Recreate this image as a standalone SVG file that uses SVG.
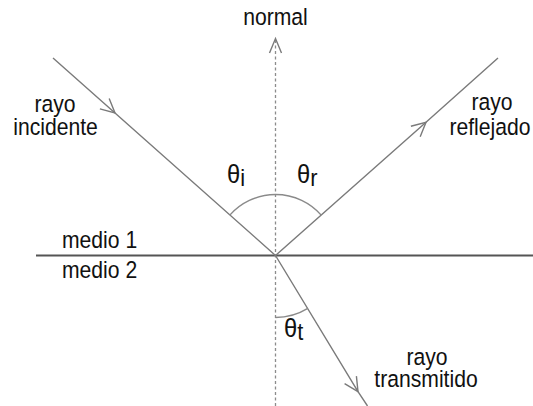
<svg xmlns="http://www.w3.org/2000/svg" width="533" height="406" viewBox="0 0 533 406">
<style>
  text { font-family: "Liberation Sans", Arial, sans-serif; font-size: 23.5px; fill: #111; }
  .lbl { text-anchor: middle; }
  .th { font-size: 25px; }
  .sub { font-size: 23px; }
  .ray { fill: none; stroke: #7a7a7a; stroke-width: 1.4; }
  .arc { fill: none; stroke: #8a8a8a; stroke-width: 1.4; }
  .normal { fill: none; stroke: #8c8c8c; stroke-width: 1.3; stroke-dasharray: 3 2.5; }
  .iface { fill: none; stroke: #555; stroke-width: 2; }
</style>
<defs>
  <marker id="chev" markerUnits="userSpaceOnUse" viewBox="-16 -9 18 18" markerWidth="18" markerHeight="18" refX="0" refY="0" orient="auto">
    <path d="M -14 -7 L 0 0 L -14 7" fill="none" stroke="#7a7a7a" stroke-width="1.4"/>
  </marker>
</defs>
<g id="connectors">
  <line id="interface" class="iface" x1="36" y1="255.5" x2="533" y2="255.5"/>
  <path id="normal-line" class="normal" d="M 275.5 406 L 275.5 39"/>
  <path class="ray" d="M 269.5 53 L 275.5 38.5 L 281.5 53"/>
  <path id="incident" class="ray" marker-mid="url(#chev)" d="M 53 58 L 115 113 L 275.5 255.5"/>
  <path id="reflected" class="ray" marker-mid="url(#chev)" d="M 275.5 255.5 L 426 122.2 L 498 58"/>
  <path id="transmitted" class="ray" marker-mid="url(#chev)" d="M 275.5 255.5 L 358 391.7 L 367.5 406"/>
  <path id="arc-ir" class="arc" d="M 229.8 215.1 A 61 61 0 0 1 321.2 215.1"/>
  <path id="arc-t" class="arc" d="M 275.5 317.5 A 62 62 0 0 0 307.8 308.4"/>
</g>
<g id="label-normal" transform="translate(275.5 25) scale(0.9 1)"><text class="lbl" x="0" y="0">normal</text></g>
<g id="label-incidente">
  <g transform="translate(55 112) scale(0.9 1)"><text class="lbl" x="0" y="0">rayo</text></g>
  <g transform="translate(55.5 135) scale(0.9 1)"><text class="lbl" x="0" y="0">incidente</text></g>
</g>
<g id="label-reflejado">
  <g transform="translate(492 110) scale(0.9 1)"><text class="lbl" x="0" y="0">rayo</text></g>
  <g transform="translate(490 135) scale(0.9 1)"><text class="lbl" x="0" y="0">reflejado</text></g>
</g>
<g id="label-transmitido">
  <g transform="translate(427 365) scale(0.9 1)"><text class="lbl" x="0" y="0">rayo</text></g>
  <g transform="translate(426 387) scale(0.9 1)"><text class="lbl" x="0" y="0">transmitido</text></g>
</g>
<g id="label-medio1" transform="translate(62 248) scale(0.9 1)"><text x="0" y="0">medio 1</text></g>
<g id="label-medio2" transform="translate(62 278) scale(0.9 1)"><text x="0" y="0">medio 2</text></g>
<g id="theta-i" transform="translate(227 183) scale(0.95 1)"><text class="th" x="0" y="0">θ<tspan class="sub" dy="3">i</tspan></text></g>
<g id="theta-r" transform="translate(297 183) scale(0.95 1)"><text class="th" x="0" y="0">θ<tspan class="sub" dy="3">r</tspan></text></g>
<g id="theta-t" transform="translate(284 337) scale(0.95 1)"><text class="th" x="0" y="0">θ<tspan class="sub" dy="3">t</tspan></text></g>
</svg>
